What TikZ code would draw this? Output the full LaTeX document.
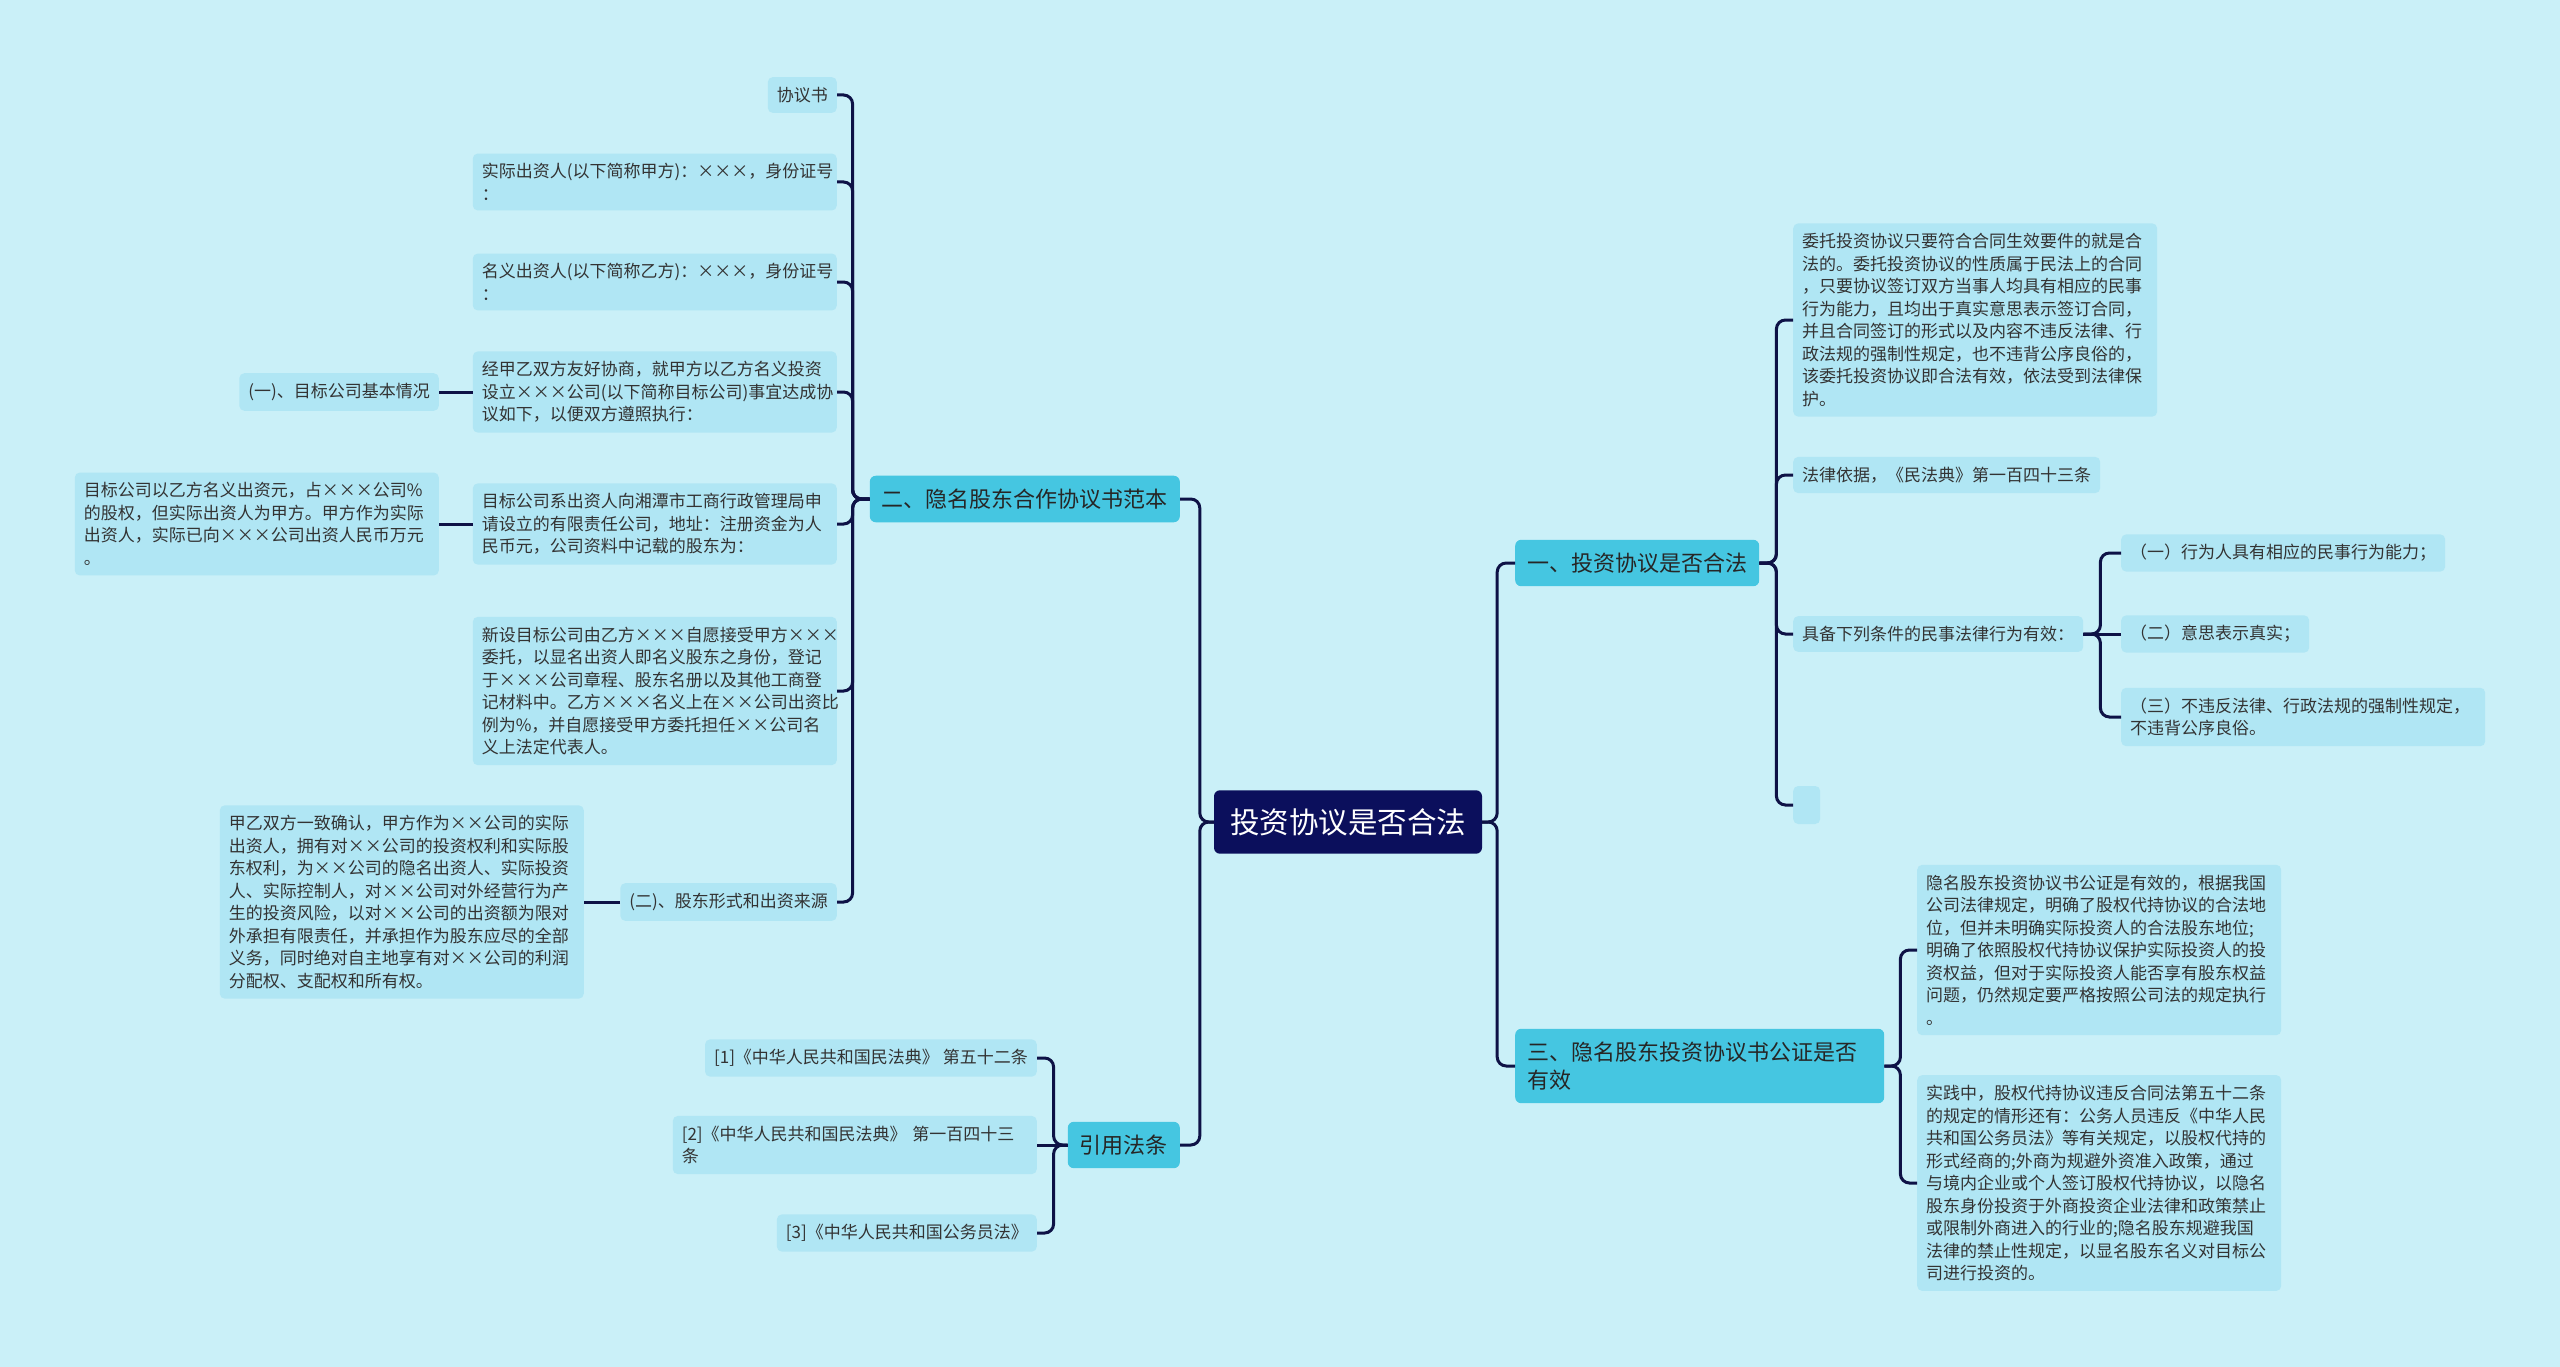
\documentclass[tikz,border=0pt]{standalone}
\usepackage{fontspec}
\setmainfont{Noto Sans CJK SC}
\definecolor{bgcol}{HTML}{CAF0F8}
\definecolor{leafcol}{HTML}{B0E6F4}
\definecolor{topiccol}{HTML}{45C6E1}
\definecolor{rootcol}{HTML}{0B0F5C}
\definecolor{linecol}{HTML}{0E1246}
\definecolor{leaftext}{HTML}{333333}
\begin{document}
\begin{tikzpicture}[
  x=1pt, y=-1pt,
  root/.style={fill=rootcol, text=white, rounded corners=6pt,
    font=\fontsize{29.5}{35}\selectfont, inner xsep=16pt, inner ysep=18pt},
  topic/.style={fill=topiccol, text=black!85, rounded corners=6pt, align=left,
    font=\fontsize{22}{28}\selectfont, inner xsep=12pt, inner ysep=13pt},
  leaf/.style={fill=leafcol, text=leaftext, rounded corners=5pt, align=left,
    font=\fontsize{17}{22.5}\selectfont, inner xsep=9pt, inner ysep=10pt},
  para/.style={leaf, text width=346pt},
  branch/.style={draw=linecol, line width=3pt, rounded corners=9pt},
  ]
  \fill[bgcol] (0,0) rectangle (2560,1367);
  \useasboundingbox (0,0) rectangle (2560,1367);

  \node[root] (root) at (1348,822) {投资协议是否合法};

  \node[topic, anchor=east] (sample) at (1180,499) {二、隐名股东合作协议书范本};
  \node[topic, anchor=east] (cite) at (1180,1145) {引用法条};
  \node[topic, anchor=west] (legal) at (1515,563) {一、投资协议是否合法};
  \node[topic, anchor=west, text width=345pt] (notary) at (1515,1066)
    {三、隐名股东投资协议书公证是否\\有效};

  \node[leaf, anchor=east] (p1) at (837,95) {协议书};
  \node[para, anchor=east] (p2) at (837,182) {实际出资人(以下简称甲方)：×××，身份证号\\：};
  \node[para, anchor=east] (p3) at (837,282) {名义出资人(以下简称乙方)：×××，身份证号\\：};
  \node[para, anchor=east] (p4) at (837,392) {经甲乙双方友好协商，就甲方以乙方名义投资\\设立×××公司(以下简称目标公司)事宜达成协\\议如下，以便双方遵照执行：};
  \node[para, anchor=east] (p5) at (837,524) {目标公司系出资人向湘潭市工商行政管理局申\\请设立的有限责任公司，地址：注册资金为人\\民币元，公司资料中记载的股东为：};
  \node[para, anchor=east] (p6) at (837,691) {新设目标公司由乙方×××自愿接受甲方×××\\委托，以显名出资人即名义股东之身份，登记\\于×××公司章程、股东名册以及其他工商登\\记材料中。乙方×××名义上在××公司出资比\\例为\%，并自愿接受甲方委托担任××公司名\\义上法定代表人。};
  \node[leaf, anchor=east] (p7) at (837,902) {(二)、股东形式和出资来源};

  \node[leaf, anchor=east] (p4a) at (439,392) {(一)、目标公司基本情况};
  \node[para, anchor=east] (p5a) at (439,524) {目标公司以乙方名义出资元，占×××公司\%\\的股权，但实际出资人为甲方。甲方作为实际\\出资人，实际已向×××公司出资人民币万元\\。};
  \node[para, anchor=east] (p7a) at (584,902) {甲乙双方一致确认，甲方作为××公司的实际\\出资人，拥有对××公司的投资权利和实际股\\东权利，为××公司的隐名出资人、实际投资\\人、实际控制人，对××公司对外经营行为产\\生的投资风险，以对××公司的出资额为限对\\外承担有限责任，并承担作为股东应尽的全部\\义务，同时绝对自主地享有对××公司的利润\\分配权、支配权和所有权。};

  \node[leaf, anchor=east] (c1) at (1037,1058) {[1]《中华人民共和国民法典》 第五十二条};
  \node[para, anchor=east] (c2) at (1037,1145) {[2]《中华人民共和国民法典》 第一百四十三\\条};
  \node[leaf, anchor=east] (c3) at (1037,1233) {[3]《中华人民共和国公务员法》};

  \node[para, anchor=west] (l1) at (1793,320) {委托投资协议只要符合合同生效要件的就是合\\法的。委托投资协议的性质属于民法上的合同\\，只要协议签订双方当事人均具有相应的民事\\行为能力，且均出于真实意思表示签订合同，\\并且合同签订的形式以及内容不违反法律、行\\政法规的强制性规定，也不违背公序良俗的，\\该委托投资协议即合法有效，依法受到法律保\\护。};
  \node[leaf, anchor=west] (l2) at (1793,475) {法律依据，《民法典》第一百四十三条};
  \node[leaf, anchor=west] (l3) at (1793,634) {具备下列条件的民事法律行为有效：};
  \node[leaf, anchor=west, minimum width=27pt, minimum height=38pt, inner sep=0pt] (l4) at (1793,805) {};

  \node[leaf, anchor=west] (l3a) at (2121,553) {（一）行为人具有相应的民事行为能力；};
  \node[leaf, anchor=west] (l3b) at (2121,634) {（二）意思表示真实；};
  \node[para, anchor=west] (l3c) at (2121,717) {（三）不违反法律、行政法规的强制性规定，\\不违背公序良俗。};

  \node[para, anchor=west] (n1) at (1917,950) {隐名股东投资协议书公证是有效的，根据我国\\公司法律规定，明确了股权代持协议的合法地\\位，但并未明确实际投资人的合法股东地位;\\明确了依照股权代持协议保护实际投资人的投\\资权益，但对于实际投资人能否享有股东权益\\问题，仍然规定要严格按照公司法的规定执行\\。};
  \node[para, anchor=west] (n2) at (1917,1183) {实践中，股权代持协议违反合同法第五十二条\\的规定的情形还有：公务人员违反《中华人民\\共和国公务员法》等有关规定，以股权代持的\\形式经商的;外商为规避外资准入政策，通过\\与境内企业或个人签订股权代持协议，以隐名\\股东身份投资于外商投资企业法律和政策禁止\\或限制外商进入的行业的;隐名股东规避我国\\法律的禁止性规定，以显名股东名义对目标公\\司进行投资的。};

  \draw[branch] (root.west) -- ++(-14,0) |- (sample.east);
  \draw[branch] (root.west) -- ++(-14,0) |- (cite.east);
  \draw[branch] (root.east) -- ++(15,0) |- (legal.west);
  \draw[branch] (root.east) -- ++(15,0) |- (notary.west);

  \draw[branch] (sample.west) -- ++(-17,0) |- (p1.east);
  \draw[branch] (sample.west) -- ++(-17,0) |- (p2.east);
  \draw[branch] (sample.west) -- ++(-17,0) |- (p3.east);
  \draw[branch] (sample.west) -- ++(-17,0) |- (p4.east);
  \draw[branch] (sample.west) -- ++(-17,0) |- (p5.east);
  \draw[branch] (sample.west) -- ++(-17,0) |- (p6.east);
  \draw[branch] (sample.west) -- ++(-17,0) |- (p7.east);
  \draw[branch] (p4.west) -- (p4a.east);
  \draw[branch] (p5.west) -- (p5a.east);
  \draw[branch] (p7.west) -- (p7a.east);

  \draw[branch] (cite.west) -- ++(-14,0) |- (c1.east);
  \draw[branch] (cite.west) -- (c2.east);
  \draw[branch] (cite.west) -- ++(-14,0) |- (c3.east);

  \draw[branch] (legal.east) -- ++(17,0) |- (l1.west);
  \draw[branch] (legal.east) -- ++(17,0) |- (l2.west);
  \draw[branch] (legal.east) -- ++(17,0) |- (l3.west);
  \draw[branch] (legal.east) -- ++(17,0) |- (l4.west);
  \draw[branch] (l3.east) -- ++(17,0) |- (l3a.west);
  \draw[branch] (l3.east) -- (l3b.west);
  \draw[branch] (l3.east) -- ++(17,0) |- (l3c.west);

  \draw[branch] (notary.east) -- ++(16,0) |- (n1.west);
  \draw[branch] (notary.east) -- ++(16,0) |- (n2.west);
\end{tikzpicture}
\end{document}
